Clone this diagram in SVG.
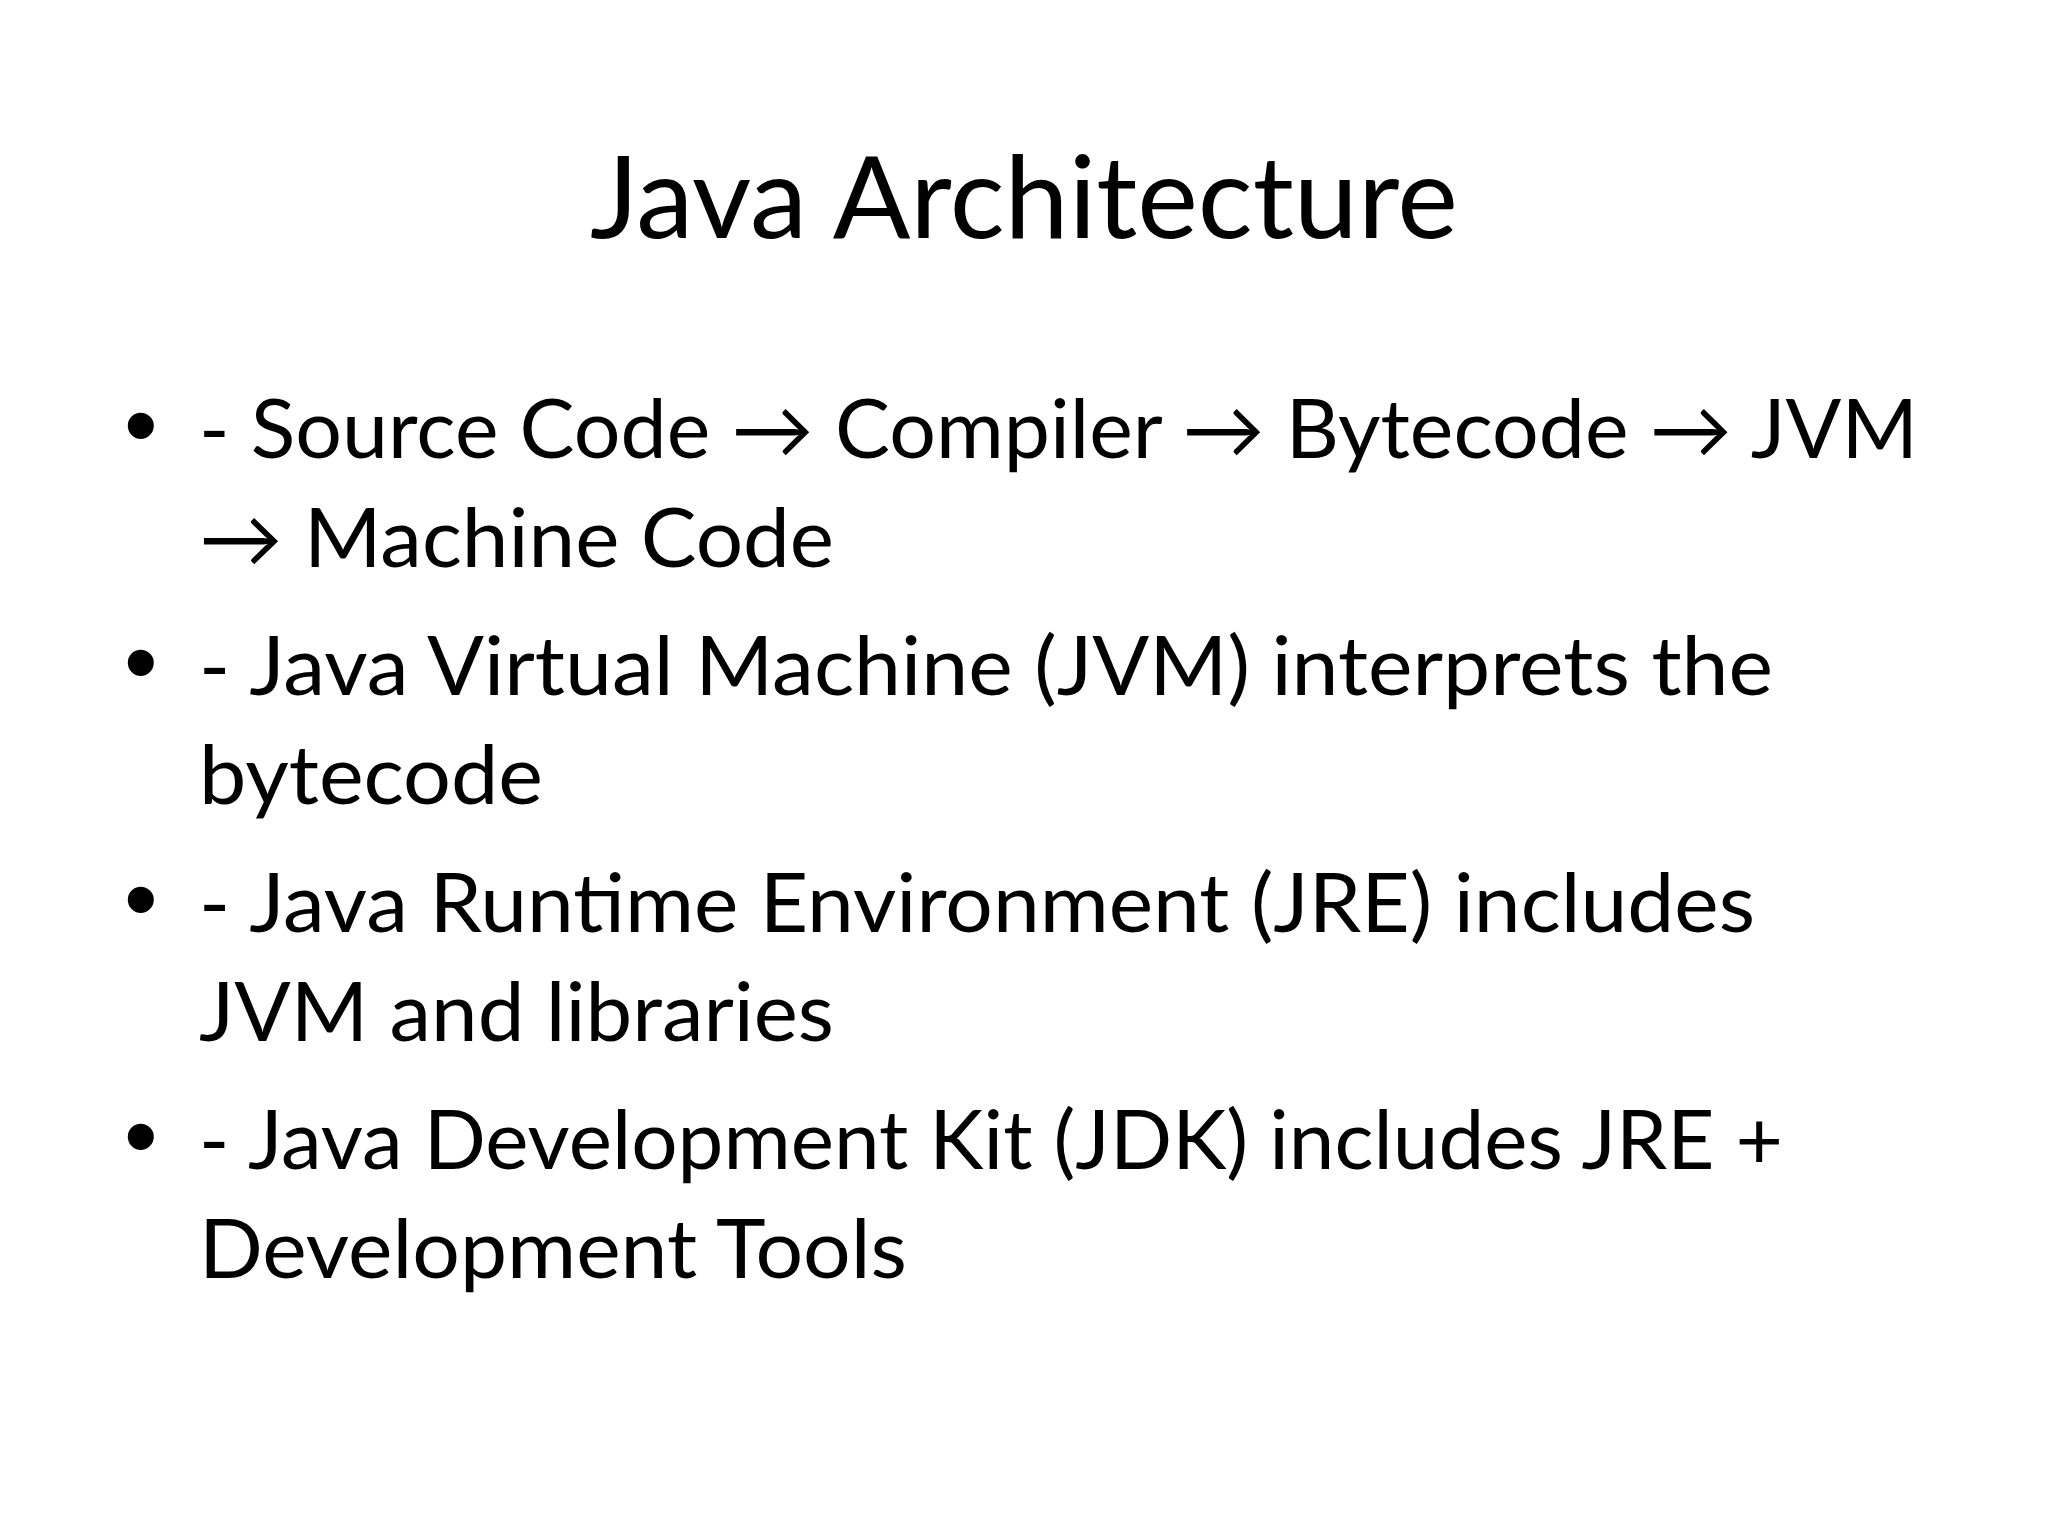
<svg xmlns="http://www.w3.org/2000/svg" width="2048" height="1536" viewBox="0 0 2048 1536">
<style>
.title{font-family:Lato,"Noto Sans","Liberation Sans",sans-serif;font-size:114px;fill:#000}
.body{font-family:Lato,"Noto Sans","DejaVu Sans","Liberation Sans",sans-serif;font-size:81px;fill:#000}
.bul{font-family:"Liberation Sans",Arial,sans-serif;font-size:96px;fill:#000}
</style>
<rect x="0" y="0" width="2048" height="1536" fill="#fff"/>
<g id="title">
<text class="title" x="1024" y="238" text-anchor="middle" textLength="868" lengthAdjust="spacingAndGlyphs">Java Architecture</text>
</g>
<g id="bullet1">
<text class="bul" x="124" y="458">•</text>
<text class="body" x="199" y="458" textLength="1719" lengthAdjust="spacingAndGlyphs">- Source Code → Compiler → Bytecode → JVM</text>
<text class="body" x="199" y="567" textLength="635" lengthAdjust="spacingAndGlyphs">→ Machine Code</text>
</g>
<g id="bullet2">
<text class="bul" x="124" y="695">•</text>
<text class="body" x="199" y="695" textLength="1574" lengthAdjust="spacingAndGlyphs">- Java Virtual Machine (JVM) interprets the</text>
<text class="body" x="199" y="804" textLength="344" lengthAdjust="spacingAndGlyphs">bytecode</text>
</g>
<g id="bullet3">
<text class="bul" x="124" y="932">•</text>
<text class="body" x="199" y="932" textLength="1556" lengthAdjust="spacingAndGlyphs">- Java Runtime Environment (JRE) includes</text>
<text class="body" x="199" y="1041" textLength="635" lengthAdjust="spacingAndGlyphs">JVM and libraries</text>
</g>
<g id="bullet4">
<text class="bul" x="124" y="1169">•</text>
<text class="body" x="199" y="1169" textLength="1584" lengthAdjust="spacingAndGlyphs">- Java Development Kit (JDK) includes JRE +</text>
<text class="body" x="199" y="1278" textLength="708" lengthAdjust="spacingAndGlyphs">Development Tools</text>
</g>
<g id="connectors"></g>
</svg>
